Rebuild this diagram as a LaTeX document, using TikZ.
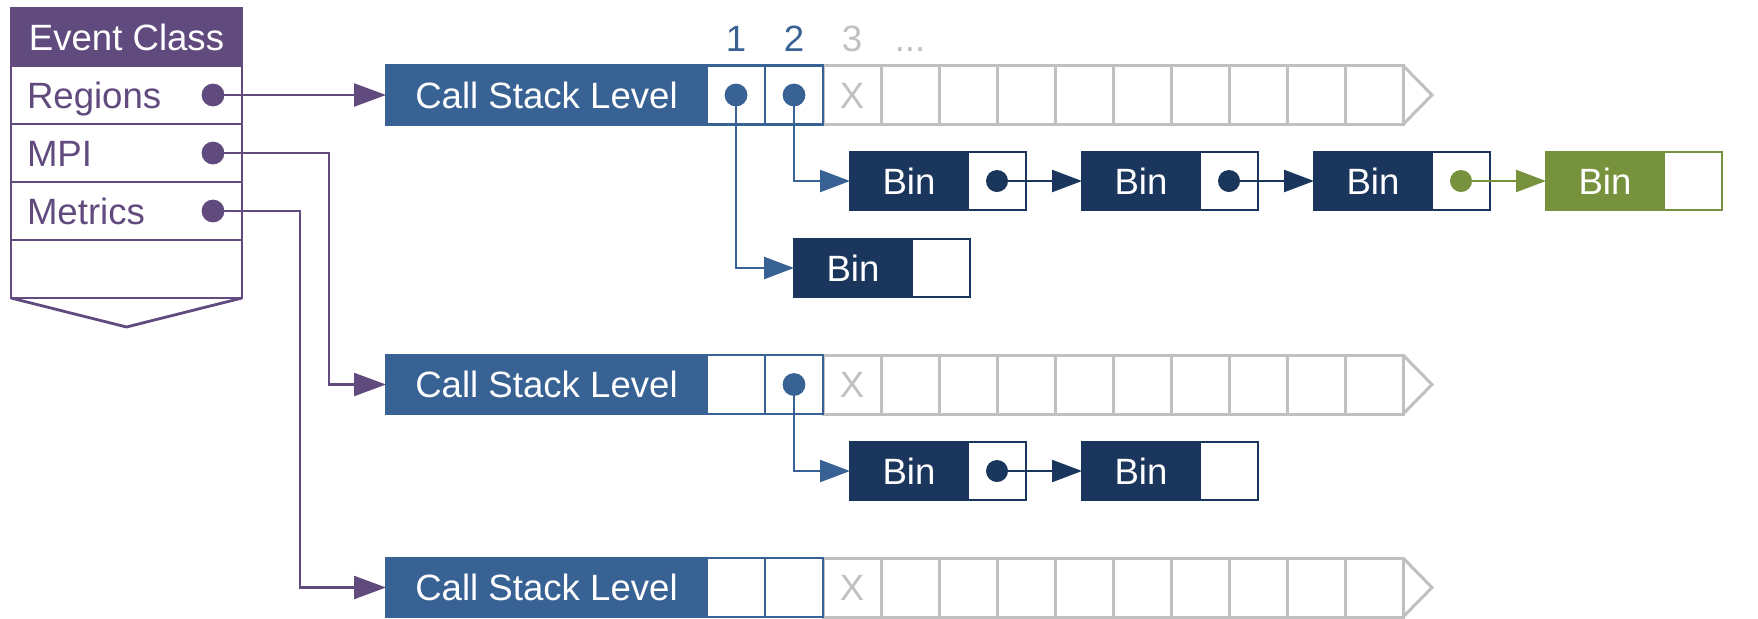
\documentclass[tikz,border=0pt]{standalone}
\usepackage{fontspec}
\setmainfont{Liberation Sans}
\usetikzlibrary{arrows.meta,positioning}
\definecolor{evpurple}{RGB}{97,74,125}
\definecolor{levelblue}{RGB}{56,98,147}
\definecolor{binnavy}{RGB}{27,54,93}
\definecolor{bingreen}{RGB}{118,146,60}
\definecolor{cellgrey}{RGB}{192,192,192}

\begin{document}
\begin{tikzpicture}[x=0.5pt,y=-0.5pt,
  txt/.style={font=\fontsize{18.3}{21}\selectfont,text height=13.1pt,text depth=0pt,inner sep=0pt,outer sep=0pt},
  evhead/.style={txt,fill=evpurple,draw=evpurple,line width=1.4pt,text=white,minimum width=115.5pt,minimum height=29pt},
  evrow/.style={txt,draw=evpurple,line width=1.4pt,text=evpurple,minimum height=29pt,inner xsep=8pt,text width=99.5pt,align=left},
  levelbox/.style={txt,fill=levelblue,draw=levelblue,line width=1.4pt,text=white,minimum width=160.5pt,minimum height=29.5pt},
  bluecell/.style={txt,fill=white,draw=levelblue,line width=1.4pt,minimum width=29pt,minimum height=29.5pt},
  greycell/.style={txt,draw=cellgrey,line width=1.5pt,text=cellgrey,minimum width=29pt,minimum height=29.5pt},
  binbox/.style={txt,fill=binnavy,draw=binnavy,line width=1.4pt,text=white,minimum width=59pt,minimum height=29pt},
  binslot/.style={txt,fill=white,draw=binnavy,line width=1.4pt,minimum width=29pt,minimum height=29pt},
  greenbox/.style={binbox,fill=bingreen,draw=bingreen},
  greenslot/.style={binslot,draw=bingreen},
  evlink/.style={draw=evpurple,line width=1.2pt,-{Triangle[length=16pt,width=11.5pt]}},
  stacklink/.style={draw=levelblue,line width=1.2pt,-{Triangle[length=15pt,width=11pt]}},
  binlink/.style={draw=binnavy,line width=1.2pt,-{Triangle[length=15pt,width=11pt]}},
  greenlink/.style={draw=bingreen,line width=1.2pt,-{Triangle[length=15pt,width=11pt]}}]
\useasboundingbox (0,0) rectangle (1758,618);

% event class record
\node[evhead] (evclass) at (126.5,37) {Event Class};
\node[evrow,below=0pt of evclass] (regions) {Regions};
\node[evrow,below=0pt of regions] (mpi) {MPI};
\node[evrow,below=0pt of mpi] (metrics) {Metrics};
\node[evrow,below=0pt of metrics] (evspare) {};
\draw[evpurple,line width=1.4pt] (evspare.south west) -- (126.5,327) -- (evspare.south east);

% call stack levels
\foreach \r/\y in {1/95,2/384.5,3/587.5}{
  \node[levelbox] (csl\r) at (546.5,\y) {Call Stack Level};
  \foreach \i in {4,...,12}
    \node[greycell] (l\r-\i) at (678+58*\i,\y) {};
  \node[greycell] (l\r-3) at (852,\y) {X};
  \foreach \i in {1,2}
    \node[bluecell] (l\r-\i) at (678+58*\i,\y) {};
  \draw[cellgrey,line width=1.5pt] (l\r-12.north east) -- (1432,\y) -- (l\r-12.south east);
}

% slot numbers
\node[txt,text=levelblue,above=7pt of l1-1] (idx1) {1};
\node[txt,text=levelblue,above=7pt of l1-2] (idx2) {2};
\node[txt,text=cellgrey,above=7pt of l1-3] (idx3) {3};
\node[txt,text=cellgrey,above=7pt of l1-4] (idxmore) {...};

% bins
\node[binbox] (b0) at (853,268) {Bin};
\node[binslot,right=0pt of b0] (b0s) {};
\node[binbox] (b1) at (909,181) {Bin};
\node[binslot,right=0pt of b1] (b1s) {};
\node[binbox] (b2) at (1141,181) {Bin};
\node[binslot,right=0pt of b2] (b2s) {};
\node[binbox] (b3) at (1373,181) {Bin};
\node[binslot,right=0pt of b3] (b3s) {};
\node[greenbox] (b4) at (1605,181) {Bin};
\node[greenslot,right=0pt of b4] (b4s) {};
\node[binbox] (d1) at (909,471) {Bin};
\node[binslot,right=0pt of d1] (d1s) {};
\node[binbox] (d2) at (1141,471) {Bin};
\node[binslot,right=0pt of d2] (d2s) {};

% event class links
\coordinate (regdot) at ([xshift=-14.5pt]regions.east);
\coordinate (mpidot) at ([xshift=-14.5pt]mpi.east);
\coordinate (metdot) at ([xshift=-14.5pt]metrics.east);
\draw[evlink] (regdot) -- (csl1.west);
\draw[evlink] (mpidot) -| ([xshift=-28.5pt]csl2.west) -- (csl2.west);
\draw[evlink] (metdot) -| ([xshift=-43pt]csl3.west) -- (csl3.west);
\foreach \d in {regdot,mpidot,metdot}
  \fill[evpurple] (\d) circle (5.7pt);

% level slots to bins
\draw[stacklink] (l1-1.center) |- (b0.west);
\draw[stacklink] (l1-2.center) |- (b1.west);
\draw[stacklink] (l2-2.center) |- (d1.west);
\draw[binlink] (b1s.center) -- (b2.west);
\draw[binlink] (b2s.center) -- (b3.west);
\draw[greenlink] (b3s.center) -- (b4.west);
\draw[binlink] (d1s.center) -- (d2.west);
\foreach \d in {l1-1,l1-2,l2-2}
  \fill[levelblue] (\d) circle (5.7pt);
\foreach \d in {b1s,b2s,d1s}
  \fill[binnavy] (\d) circle (5.5pt);
\fill[bingreen] (b3s) circle (5.5pt);
\end{tikzpicture}
\end{document}
